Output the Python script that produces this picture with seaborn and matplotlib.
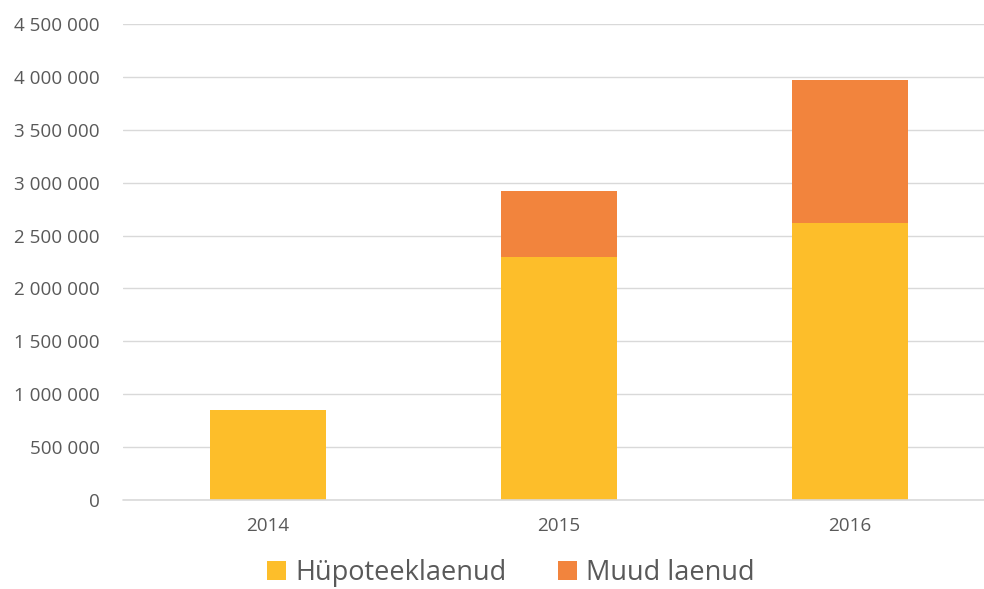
import matplotlib
matplotlib.use("Agg")
import matplotlib.pyplot as plt
import seaborn as sns
import pandas as pd
from matplotlib.patches import Patch
from matplotlib.ticker import FuncFormatter

years = ["2014", "2015", "2016"]
hupoteek = [855000, 2300000, 2620000]
muud = [0, 620000, 1350000]
series_names = ["Hüpoteeklaenud", "Muud laenud"]
colors = ["#FDBE2A", "#F2843D"]
yticks = [0, 500000, 1000000, 1500000, 2000000, 2500000, 3000000, 3500000, 4000000, 4500000]

sns.set_theme(style="white")
plt.rcParams['font.family'] = ['Open Sans', 'DejaVu Sans']

df = pd.DataFrame({"year": years, "hup": hupoteek,
                   "total": [h + m for h, m in zip(hupoteek, muud)]})

fig = plt.figure(figsize=(9.84, 5.89), dpi=100)
ax = fig.add_axes([123/984, 89/589, 861/984, 476/589])

sns.barplot(data=df, x="year", y="total", color=colors[1], saturation=1,
            width=0.4, ax=ax, zorder=3, linewidth=0, edgecolor="none")
sns.barplot(data=df, x="year", y="hup", color=colors[0], saturation=1,
            width=0.4, ax=ax, zorder=3, linewidth=0, edgecolor="none")

ax.set_ylim(0, 4500000)
ax.set_xlim(-0.498, 2.461)
ax.set_yticks(yticks)
ax.yaxis.set_major_formatter(FuncFormatter(lambda v, p: f"{int(v):,}".replace(",", " ")))
ax.grid(axis="y", color="#D9D9D9", linewidth=1.0, zorder=0)
ax.axhline(0, color="#D9D9D9", linewidth=1.2, zorder=4, clip_on=False)
ax.set_axisbelow(True)
for s in ax.spines.values():
    s.set_visible(False)
ax.tick_params(axis="y", length=0, pad=16.5, labelsize=13.6, labelcolor="#595959")
ax.tick_params(axis="x", length=0, pad=12, labelsize=13.6, labelcolor="#595959")
ax.set_xlabel("")
ax.set_ylabel("")

handles = [Patch(facecolor=c, edgecolor="none") for c in colors]
fig.legend(handles, series_names, loc="center", bbox_to_anchor=(511/984, 16/589),
           ncol=2, frameon=False, fontsize=19.5, labelcolor="#595959",
           handlelength=0.7, handleheight=0.7, handletextpad=0.35, columnspacing=1.9)

fig.savefig("out.png", dpi=100)
